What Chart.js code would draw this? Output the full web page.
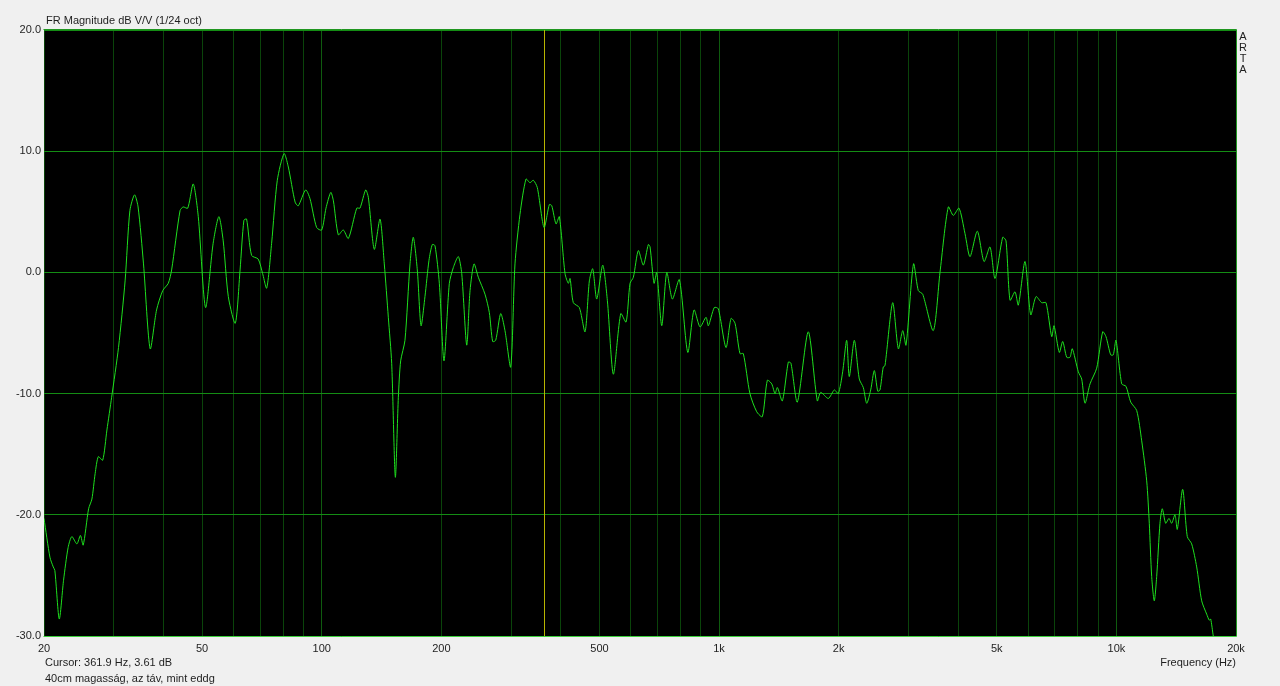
<!DOCTYPE html>
<html>
<head>
<meta charset="utf-8">
<script src="https://cdn.jsdelivr.net/npm/chart.js@4/dist/chart.umd.min.js"></script>
<style>
  html, body { margin: 0; padding: 0; background: #f0f0f0; }
  #wrap { position: relative; width: 1280px; height: 686px; overflow: hidden; }
  canvas { position: absolute; left: 0; top: 0; }
  .t { position: absolute; font-family: "Liberation Sans", Arial, sans-serif; font-size: 11px; color: #1e1e1e; white-space: nowrap; line-height: 13px; }
</style>
</head>
<body>
<div id="wrap">
  <canvas id="c" width="1280" height="686"></canvas>
  <div class="t" style="left:46px; top:14px;">FR Magnitude dB V/V (1/24 oct)</div>
  <div class="t" style="left:45px; top:656px;">Cursor: 361.9 Hz, 3.61 dB</div>
  <div class="t" style="left:45px; top:672px;">40cm magasság, az táv, mint eddg</div>
  <div class="t" style="right:44px; top:656px; text-align:right;">Frequency (Hz)</div>
  <div class="t" style="left:1238px; top:31px; width:10px; text-align:center; line-height:11px;">A<br>R<br>T<br>A</div>
</div>
<script>
// Frequency (Hz) of each read point
const freqs = [
  20, 20.7, 21.1, 21.3, 21.85, 22.4, 23.0, 23.5, 24.2, 24.7, 25.1, 25.9, 26.4, 26.9, 27.4, 28.1, 28.8, 29.6,
  30.8, 32.0, 32.9, 33.8, 34.5, 35.6, 37.0, 38.4, 39.8, 41.1, 41.9, 44.0, 44.8, 46.0, 47.5, 48.9,
  51.0, 53.3, 55.1, 56.5, 58.2, 60.6, 62.3, 63.7, 64.7, 66.6, 69.2, 71.0, 72.7, 74.8, 77.3, 80.4,
  82.4, 85.7, 87.3, 91.1, 93.4, 97.1, 100.0, 102.5, 105.4, 107.0, 110.1, 113.3, 116.7, 122.5, 124.8,
  129.0, 131.0, 135.6, 140.2, 143.7, 147.1, 150.0, 153.2, 155.9, 158.0, 162.0, 166.8, 170.0, 174.0,
  177.8, 181.9, 186.2, 189.8, 192.8, 197.7, 203.1, 209.5, 214.4, 220.7, 225.1, 231.7, 236.2, 241.7,
  247.8, 257.6, 264.1, 269.3, 274.1, 282.1, 289.2, 299.0, 306.5, 315.5, 326.7, 334.3, 340.8, 348.8,
  362.7, 374.0, 379.3, 388.8, 396.3, 409.6, 417.5, 421.7, 429.8, 445.0, 460.0, 471.6, 480.9, 492.2,
  509.6, 523.4, 541.9, 565.7, 583.4, 597.0, 608.6, 626.4, 644.9, 663.8, 670.4, 686.1, 696.9, 717.4,
  738.5, 762.9, 794.5, 834.1, 865.0, 895.7, 927.3, 939.8, 972.8, 995.7, 1041, 1072, 1097, 1129, 1151,
  1196, 1244, 1285, 1323, 1357, 1383, 1402, 1443, 1494, 1517, 1574, 1677, 1767, 1802, 1884, 1950,
  1996, 2047, 2095, 2127, 2190, 2254, 2307, 2353, 2408, 2459, 2508, 2541, 2590, 2616, 2735, 2826,
  2899, 2955, 3086, 3173, 3255, 3461, 3598, 3775, 3886, 4017, 4159, 4281, 4467, 4644, 4808, 4949,
  5175, 5275, 5399, 5557, 5665, 5889, 6087, 6277, 6487, 6651, 6874, 6967, 7184, 7327, 7498, 7643,
  7746, 8020, 8179, 8337, 8582, 8921, 9237, 9415, 9675, 9822, 9977, 10313, 10573, 10865, 11250,
  11580, 11920, 12100, 12270, 12456, 12630, 12874, 13046, 13306, 13563, 13777, 14043, 14232, 14684,
  15081, 15470, 15925, 16394, 16876, 17132, 17272, 17534, 17800
];
// Magnitude (dB) at each frequency
const magnitudes = [
  -20.3, -23.5, -24.3, -24.6, -28.6, -25.4, -22.7, -21.8, -22.4, -21.7, -22.5, -19.5, -18.7, -16.6, -15.2, -15.5, -13.0, -10.3,
  -6.2, -0.7, 5.1, 6.4, 5.4, 0.7, -6.3, -3.1, -1.5, -0.9, 0.2, 5.1, 5.4, 5.3, 7.3, 4.6,
  -2.9, 2.4, 4.6, 2.6, -2.0, -4.2, 0.2, 4.3, 4.4, 1.4, 1.1, -0.1, -1.3, 2.4, 7.6, 9.8,
  8.7, 5.8, 5.5, 6.8, 6.1, 3.7, 3.5, 5.3, 6.6, 5.9, 3.1, 3.5, 2.8, 5.3, 5.3,
  6.8, 6.2, 1.9, 4.4, 0.7, -3.7, -7.5, -16.9, -10.3, -7.3, -5.6, 0.7, 2.9, 0.2,
  -4.4, -2.0, 1.0, 2.3, 2.2, -0.9, -7.3, -0.9, 0.4, 1.3, -0.1, -6.0, -1.5, 0.7,
  -0.4, -1.8, -3.3, -5.7, -5.6, -3.4, -4.8, -7.8, 0.7, 4.8, 7.7, 7.4, 7.6, 7.0,
  3.7, 5.6, 5.5, 4.0, 4.6, -0.1, -0.9, -0.5, -2.5, -2.9, -4.9, -0.7, 0.3, -2.2,
  0.6, -2.3, -8.4, -3.4, -4.1, -0.9, -0.4, 1.8, 0.6, 2.3, 2.1, -0.9, 0.0, -4.4,
  0.0, -2.2, -0.6, -6.6, -3.1, -4.5, -3.7, -4.4, -2.9, -3.0, -6.2, -3.8, -4.2, -6.7, -6.7,
  -10.0, -11.5, -11.9, -8.9, -9.2, -10.0, -9.5, -10.6, -7.4, -7.5, -10.7, -4.9, -10.6, -9.9, -10.4, -9.7,
  -10.0, -8.2, -5.6, -8.6, -5.6, -8.8, -9.5, -10.8, -9.7, -8.1, -9.8, -9.7, -7.8, -7.7, -2.5, -6.3,
  -4.8, -6.0, 0.7, -1.5, -1.8, -4.8, 0.0, 5.4, 4.7, 5.3, 3.2, 1.3, 3.4, 0.9, 2.1, -0.5,
  2.9, 2.6, -2.3, -1.6, -2.7, 0.9, -3.5, -2.0, -2.5, -2.5, -5.3, -4.4, -6.6, -5.7, -7.0, -7.0,
  -6.3, -8.2, -8.8, -10.8, -9.2, -7.9, -4.9, -5.3, -6.8, -6.8, -5.6, -9.2, -9.4, -10.7, -11.4,
  -13.9, -17.2, -20.7, -25.1, -27.1, -25.1, -20.7, -19.5, -20.7, -20.3, -20.7, -20.0, -21.2, -17.9,
  -21.8, -22.4, -24.3, -27.1, -28.2, -28.7, -28.6, -30.0, -31.0
];
// Axis ticks
const gridFreqs = [20, 30, 40, 50, 60, 70, 80, 90, 100, 200, 300, 400, 500, 600, 700, 800, 900,
  1000, 2000, 3000, 4000, 5000, 6000, 7000, 8000, 9000, 10000, 20000];
const labelFreqs = [20, 50, 100, 200, 500, 1000, 2000, 5000, 10000, 20000];
const labelTexts = ['20', '50', '100', '200', '500', '1k', '2k', '5k', '10k', '20k'];
const dbTicks = [-30, -20, -10, 0, 10, 20];
const cursorFreq = 361.9;

const points = freqs.map((f, i) => ({ x: f, y: magnitudes[i] }));

const bgPlugin = {
  id: 'bg',
  beforeDraw(chart) {
    const { ctx, chartArea: a } = chart;
    ctx.save();
    ctx.fillStyle = '#000000';
    ctx.fillRect(a.left, a.top, a.right - a.left, a.bottom - a.top);
    ctx.restore();
  },
  beforeDatasetsDraw(chart) {
    const { ctx, chartArea: a, scales } = chart;
    const x = Math.round(scales.x.getPixelForValue(cursorFreq)) + 0.5;
    ctx.save();
    ctx.strokeStyle = '#b8b400';
    ctx.lineWidth = 1;
    ctx.beginPath();
    ctx.moveTo(x, a.top);
    ctx.lineTo(x, a.bottom);
    ctx.stroke();
    ctx.restore();
  },
  afterDraw(chart) {
    const { ctx, chartArea: a } = chart;
    ctx.save();
    ctx.strokeStyle = '#1f961f';
    ctx.lineWidth = 1;
    ctx.beginPath();
    ctx.moveTo(a.left - 0.5, a.top - 0.5);
    ctx.lineTo(a.right + 0.5, a.top - 0.5);
    ctx.lineTo(a.right + 0.5, a.bottom + 0.5);
    ctx.stroke();
    ctx.strokeStyle = '#3cd03c';
    ctx.beginPath();
    ctx.moveTo(a.left - 0.5, a.bottom + 0.5);
    ctx.lineTo(a.right + 0.5, a.bottom + 0.5);
    ctx.stroke();
    ctx.restore();
  }
};

new Chart(document.getElementById('c'), {
  type: 'line',
  data: {
    datasets: [{
      data: points,
      borderColor: '#1ee01e',
      borderWidth: 1,
      pointRadius: 0,
      tension: 0.25,
      fill: false
    }]
  },
  options: {
    responsive: false,
    animation: false,
    events: [],
    layout: { padding: { top: 30, right: 44, left: 0, bottom: 0 } },
    plugins: { legend: { display: false }, tooltip: { enabled: false } },
    scales: {
      x: {
        type: 'logarithmic',
        min: 20, max: 20000,
        afterBuildTicks(scale) { scale.ticks = gridFreqs.map(v => ({ value: v })); },
        afterFit(scale) { scale.height = 50; },
        border: { display: false },
        grid: {
          drawTicks: false,
          color: ctx => {
            const v = ctx.tick && ctx.tick.value;
            return (v === 100 || v === 1000 || v === 10000) ? '#0f5c0f' : '#0a440a';
          },
          lineWidth: 1
        },
        ticks: {
          autoSkip: false, maxRotation: 0, padding: 6,
          color: '#1e1e1e',
          font: { family: '"Liberation Sans", Arial, sans-serif', size: 11 },
          callback: (v) => { const i = labelFreqs.indexOf(v); return i >= 0 ? labelTexts[i] : ''; }
        }
      },
      y: {
        min: -30, max: 20,
        afterBuildTicks(scale) { scale.ticks = dbTicks.map(v => ({ value: v })); },
        afterFit(scale) { scale.width = 44; },
        border: { display: false },
        grid: { drawTicks: false, color: '#148c14', lineWidth: 1 },
        ticks: {
          padding: 3,
          color: '#1e1e1e',
          font: { family: '"Liberation Sans", Arial, sans-serif', size: 11 },
          callback: v => v.toFixed(1)
        }
      }
    }
  },
  plugins: [bgPlugin]
});
</script>
</body>
</html>
